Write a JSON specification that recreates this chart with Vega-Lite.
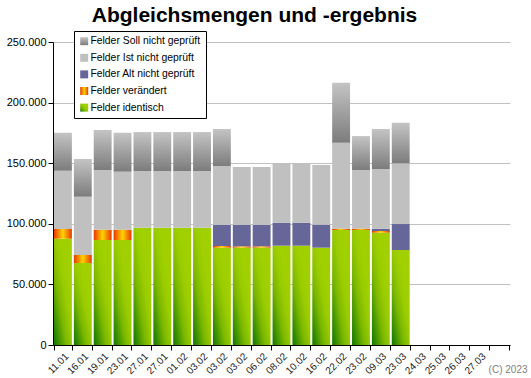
{
  "$schema": "https://vega.github.io/schema/vega-lite/v6.json",
  "width": 457,
  "height": 303,
  "autosize": {"type": "none"},
  "padding": {"left": 53, "top": 42, "right": 21, "bottom": 33},
  "background": "white",
  "title": {
    "text": "Abgleichsmengen und -ergebnis",
    "font": "Liberation Sans",
    "fontSize": 21,
    "fontWeight": "bold",
    "color": "black",
    "anchor": "middle",
    "frame": "group",
    "baseline": "alphabetic",
    "offset": -12,
    "dx": -27
  },
  "config": {"view": {"stroke": null}, "font": "Liberation Sans"},
  "datasets": {
    "stackorder": [
      {"series": "Felder identisch", "rank": 1},
      {"series": "Felder verändert", "rank": 2},
      {"series": "Felder Alt nicht geprüft", "rank": 3},
      {"series": "Felder Ist nicht geprüft", "rank": 4},
      {"series": "Felder Soll nicht geprüft", "rank": 5}
    ]
  },
  "data": {
    "values": [
      {"id": "1", "date": "11.01", "series": "Felder identisch", "value": 87700},
      {"id": "1", "date": "11.01", "series": "Felder verändert", "value": 8000},
      {"id": "1", "date": "11.01", "series": "Felder Ist nicht geprüft", "value": 48100},
      {"id": "1", "date": "11.01", "series": "Felder Soll nicht geprüft", "value": 31350},
      {"id": "2", "date": "16.01", "series": "Felder identisch", "value": 67650},
      {"id": "2", "date": "16.01", "series": "Felder verändert", "value": 6600},
      {"id": "2", "date": "16.01", "series": "Felder Ist nicht geprüft", "value": 48100},
      {"id": "2", "date": "16.01", "series": "Felder Soll nicht geprüft", "value": 31100},
      {"id": "3", "date": "19.01", "series": "Felder identisch", "value": 86600},
      {"id": "3", "date": "19.01", "series": "Felder verändert", "value": 8550},
      {"id": "3", "date": "19.01", "series": "Felder Ist nicht geprüft", "value": 49250},
      {"id": "3", "date": "19.01", "series": "Felder Soll nicht geprüft", "value": 33000},
      {"id": "4", "date": "23.01", "series": "Felder identisch", "value": 86600},
      {"id": "4", "date": "23.01", "series": "Felder verändert", "value": 8550},
      {"id": "4", "date": "23.01", "series": "Felder Ist nicht geprüft", "value": 47850},
      {"id": "4", "date": "23.01", "series": "Felder Soll nicht geprüft", "value": 32150},
      {"id": "5", "date": "27.01", "series": "Felder identisch", "value": 96800},
      {"id": "5", "date": "27.01", "series": "Felder Ist nicht geprüft", "value": 46750},
      {"id": "5", "date": "27.01", "series": "Felder Soll nicht geprüft", "value": 32150},
      {"id": "6", "date": "27.01", "series": "Felder identisch", "value": 96800},
      {"id": "6", "date": "27.01", "series": "Felder Ist nicht geprüft", "value": 46750},
      {"id": "6", "date": "27.01", "series": "Felder Soll nicht geprüft", "value": 32150},
      {"id": "7", "date": "01.02", "series": "Felder identisch", "value": 96800},
      {"id": "7", "date": "01.02", "series": "Felder Ist nicht geprüft", "value": 46750},
      {"id": "7", "date": "01.02", "series": "Felder Soll nicht geprüft", "value": 32150},
      {"id": "8", "date": "03.02", "series": "Felder identisch", "value": 96800},
      {"id": "8", "date": "03.02", "series": "Felder Ist nicht geprüft", "value": 46750},
      {"id": "8", "date": "03.02", "series": "Felder Soll nicht geprüft", "value": 32150},
      {"id": "9", "date": "03.02", "series": "Felder identisch", "value": 80300},
      {"id": "9", "date": "03.02", "series": "Felder verändert", "value": 1400},
      {"id": "9", "date": "03.02", "series": "Felder Alt nicht geprüft", "value": 17300},
      {"id": "9", "date": "03.02", "series": "Felder Ist nicht geprüft", "value": 48700},
      {"id": "9", "date": "03.02", "series": "Felder Soll nicht geprüft", "value": 30500},
      {"id": "10", "date": "03.02", "series": "Felder identisch", "value": 80300},
      {"id": "10", "date": "03.02", "series": "Felder verändert", "value": 1100},
      {"id": "10", "date": "03.02", "series": "Felder Alt nicht geprüft", "value": 17600},
      {"id": "10", "date": "03.02", "series": "Felder Ist nicht geprüft", "value": 47850},
      {"id": "11", "date": "06.02", "series": "Felder identisch", "value": 80300},
      {"id": "11", "date": "06.02", "series": "Felder verändert", "value": 1100},
      {"id": "11", "date": "06.02", "series": "Felder Alt nicht geprüft", "value": 17600},
      {"id": "11", "date": "06.02", "series": "Felder Ist nicht geprüft", "value": 47850},
      {"id": "12", "date": "08.02", "series": "Felder identisch", "value": 81950},
      {"id": "12", "date": "08.02", "series": "Felder Alt nicht geprüft", "value": 18950},
      {"id": "12", "date": "08.02", "series": "Felder Ist nicht geprüft", "value": 49250},
      {"id": "13", "date": "10.02", "series": "Felder identisch", "value": 81950},
      {"id": "13", "date": "10.02", "series": "Felder Alt nicht geprüft", "value": 18950},
      {"id": "13", "date": "10.02", "series": "Felder Ist nicht geprüft", "value": 49250},
      {"id": "14", "date": "16.02", "series": "Felder identisch", "value": 80300},
      {"id": "14", "date": "16.02", "series": "Felder Alt nicht geprüft", "value": 18950},
      {"id": "14", "date": "16.02", "series": "Felder Ist nicht geprüft", "value": 49250},
      {"id": "15", "date": "22.02", "series": "Felder identisch", "value": 94900},
      {"id": "15", "date": "22.02", "series": "Felder verändert", "value": 1050},
      {"id": "15", "date": "22.02", "series": "Felder Ist nicht geprüft", "value": 70950},
      {"id": "15", "date": "22.02", "series": "Felder Soll nicht geprüft", "value": 49500},
      {"id": "16", "date": "23.02", "series": "Felder identisch", "value": 94900},
      {"id": "16", "date": "23.02", "series": "Felder verändert", "value": 1050},
      {"id": "16", "date": "23.02", "series": "Felder Ist nicht geprüft", "value": 48450},
      {"id": "16", "date": "23.02", "series": "Felder Soll nicht geprüft", "value": 28000},
      {"id": "17", "date": "09.03", "series": "Felder identisch", "value": 92650},
      {"id": "17", "date": "09.03", "series": "Felder verändert", "value": 1400},
      {"id": "17", "date": "09.03", "series": "Felder Alt nicht geprüft", "value": 1900},
      {"id": "17", "date": "09.03", "series": "Felder Ist nicht geprüft", "value": 49250},
      {"id": "17", "date": "09.03", "series": "Felder Soll nicht geprüft", "value": 33000},
      {"id": "18", "date": "23.03", "series": "Felder identisch", "value": 78400},
      {"id": "18", "date": "23.03", "series": "Felder Alt nicht geprüft", "value": 21400},
      {"id": "18", "date": "23.03", "series": "Felder Ist nicht geprüft", "value": 50100},
      {"id": "18", "date": "23.03", "series": "Felder Soll nicht geprüft", "value": 33500}
    ]
  },
  "transform": [
    {"lookup": "series", "from": {"data": {"name": "stackorder"}, "key": "series", "fields": ["rank"]}}
  ],
  "mark": {"type": "bar"},
  "encoding": {
    "x": {
      "field": "id",
      "type": "ordinal",
      "scale": {
        "domain": ["1","2","3","4","5","6","7","8","9","10","11","12","13","14","15","16","17","18","19","20","21","22","23"],
        "paddingInner": 0.1,
        "paddingOuter": 0.05
      },
      "axis": {
        "labelExpr": "['11.01','16.01','19.01','23.01','27.01','27.01','01.02','03.02','03.02','03.02','06.02','08.02','10.02','16.02','22.02','23.02','09.03','23.03','24.03','25.03','26.03','27.03',''][toNumber(datum.value)-1]",
        "labelAngle": -45,
        "labelAlign": "right",
        "labelBaseline": "top",
        "labelFont": "Liberation Sans",
        "labelFontSize": 10,
        "labelColor": "#222222",
        "labelPadding": 1,
        "tickBand": "extent",
        "domainColor": "black",
        "tickColor": "black",
        "tickSize": 5,
        "grid": false,
        "title": "(C) 2023",
        "titleFont": "Liberation Sans",
        "titleFontSize": 10,
        "titleFontWeight": "normal",
        "titleColor": "#808080",
        "titleAlign": "right",
        "titleAnchor": "end",
        "titleBaseline": "alphabetic",
        "titleX": 474,
        "titleY": 27
      }
    },
    "y": {
      "field": "value",
      "type": "quantitative",
      "stack": "zero",
      "scale": {"domain": [0, 250000], "nice": false},
      "axis": {
        "values": [0, 50000, 100000, 150000, 200000, 250000],
        "labelExpr": "replace(format(datum.value, ','), ',', '.')",
        "title": null,
        "grid": true,
        "gridColor": "#c0c0c0",
        "domainColor": "black",
        "tickColor": "black",
        "tickSize": 5,
        "labelFont": "Liberation Sans",
        "labelFontSize": 11,
        "labelColor": "black",
        "labelPadding": 2
      }
    },
    "order": {"field": "rank", "type": "quantitative"},
    "color": {
      "field": "series",
      "type": "nominal",
      "scale": {
        "domain": ["Felder identisch", "Felder verändert", "Felder Alt nicht geprüft", "Felder Ist nicht geprüft", "Felder Soll nicht geprüft"],
        "range": [
          {"expr": "{gradient: 'linear', x1: 0, y1: 1, x2: 0.7, y2: 0.3, stops: [{offset: 0, color: '#0f7600'}, {offset: 0.5, color: '#7cb800'}, {offset: 0.78, color: '#99cc00'}, {offset: 1, color: '#a0d000'}]}"},
          {"expr": "{gradient: 'linear', x1: 0, y1: 0, x2: 1, y2: 0, stops: [{offset: 0, color: '#e83800'}, {offset: 0.5, color: '#ffd200'}, {offset: 1, color: '#e83800'}]}"},
          "#666699",
          "#c0c0c0",
          {"expr": "{gradient: 'linear', x1: 0, y1: 0, x2: 0, y2: 1, stops: [{offset: 0, color: '#c4c4c4'}, {offset: 1, color: '#7c7c7c'}]}"}
        ]
      },
      "legend": {
        "orient": "none",
        "legendX": 21,
        "legendY": -11,
        "values": ["Felder Soll nicht geprüft", "Felder Ist nicht geprüft", "Felder Alt nicht geprüft", "Felder verändert", "Felder identisch"],
        "title": null,
        "symbolType": "square",
        "symbolSize": 64,
        "symbolStrokeWidth": 0,
        "labelFont": "Liberation Sans",
        "labelFontSize": 10.4,
        "labelColor": "black",
        "labelOffset": 1,
        "padding": 5,
        "rowPadding": 5.6,
        "strokeColor": "black",
        "fillColor": "white"
      }
    }
  }
}
